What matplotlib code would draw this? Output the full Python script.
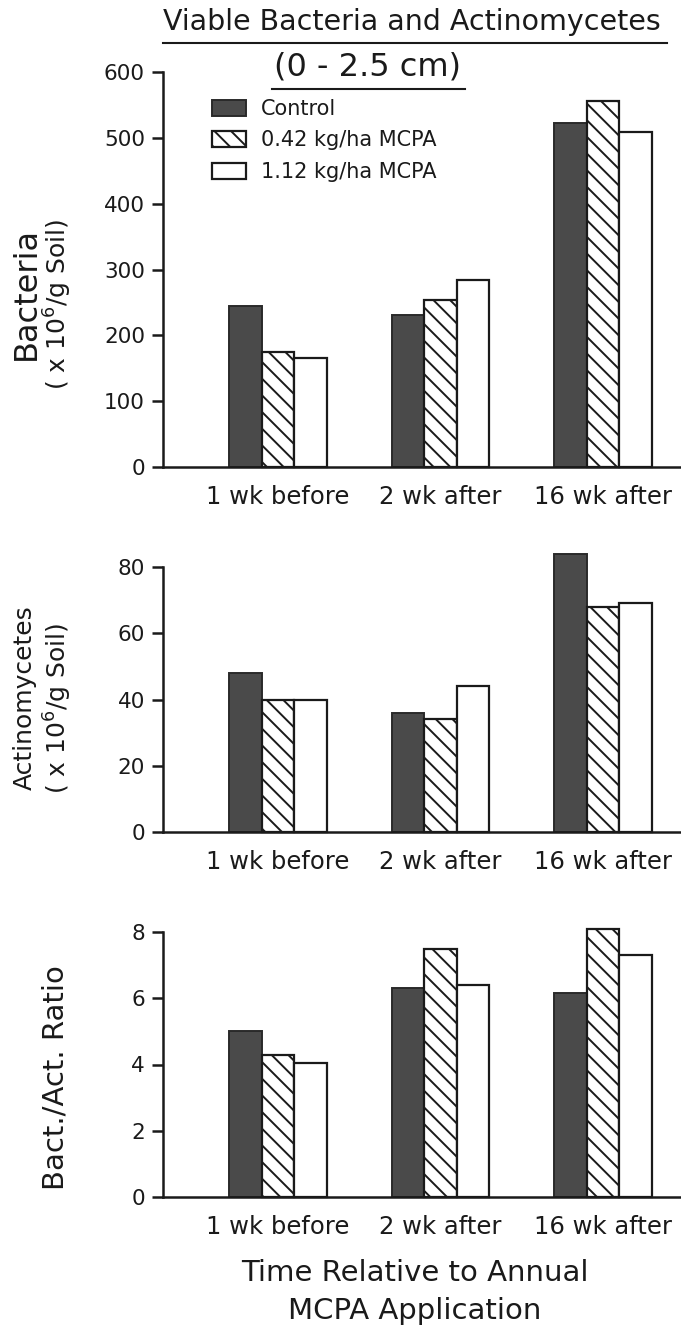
import numpy as np
import matplotlib
matplotlib.use('Agg')
import matplotlib.pyplot as plt
from matplotlib.lines import Line2D

# ---- data ----
groups = ['1 wk before', '2 wk after', '16 wk after']
treatments = ['Control', '0.42 kg/ha MCPA', '1.12 kg/ha MCPA']

bact_control = [245, 231, 522]
bact_low = [174, 254, 556]
bact_high = [166, 284, 509]

act_control = [48, 36, 84]
act_low = [40, 34, 68]
act_high = [40, 44, 69]

ratio_control = [5.0, 6.3, 6.15]
ratio_low = [4.3, 7.5, 8.1]
ratio_high = [4.05, 6.4, 7.3]

plt.rcParams['font.family'] = ['DejaVu Sans']
plt.rcParams['mathtext.fontset'] = 'dejavusans'
plt.rcParams['hatch.linewidth'] = 1.4
plt.rcParams['hatch.color'] = '#1a1a1a'

W, H = 681, 1329
fig = plt.figure(figsize=(W / 100, H / 100), dpi=100)

INK = '#1a1a1a'
DARK = '#4a4a4a'
X_LEFT, X_RIGHT = 163, 681
XLIM = (-0.708, 2.48)


def add_panel(y0_px, ytop_px, ytop_val, ymax):
    # y0_px: pixel row of value 0, ytop_px: pixel row of highest tick
    scale = (y0_px - ytop_px) / ytop_val
    top_px = y0_px - scale * ymax
    ax = fig.add_axes([X_LEFT / W, 1 - y0_px / H,
                       (X_RIGHT - X_LEFT) / W, (y0_px - top_px) / H])
    ax.set_xlim(*XLIM)
    ax.set_ylim(0, ymax)
    ax.spines['top'].set_visible(False)
    ax.spines['right'].set_visible(False)
    ax.spines['left'].set_bounds(0, ytop_val)
    for s in ['left', 'bottom']:
        ax.spines[s].set_linewidth(1.8)
        ax.spines[s].set_color(INK)
    ax.patch.set_visible(False)
    return ax


def draw_bars(ax, ctrl, low, high, yticks, ylabel1, ylabel2, lab_x1, lab_x2, lab_y, fs1):
    x = np.arange(len(groups))
    w = 0.2
    b1 = ax.bar(x - w, ctrl, w, color=DARK, edgecolor='#2a2a2a', linewidth=1.4,
                label=treatments[0], clip_on=False, zorder=2)
    b2 = ax.bar(x, low, w, color='white', edgecolor=INK, linewidth=1.6, hatch='\\\\',
                label=treatments[1], clip_on=False, zorder=2)
    b3 = ax.bar(x + w, high, w, color='white', edgecolor=INK, linewidth=1.6,
                label=treatments[2], clip_on=False, zorder=2)
    ax.set_yticks(yticks)
    ax.set_yticklabels([str(t) for t in yticks])
    ax.tick_params(axis='y', direction='out', length=8, width=1.8, color=INK,
                   pad=5, labelsize=15.5, labelcolor=INK)
    ax.set_xticks(x)
    ax.set_xticklabels(groups)
    ax.tick_params(axis='x', length=0, pad=13, labelsize=17.5, labelcolor=INK)
    fig.text(lab_x1 / W, 1 - lab_y / H, ylabel1, rotation=90, ha='center', va='center',
             fontsize=fs1, color=INK)
    if ylabel2:
        fig.text(lab_x2 / W, 1 - (lab_y + 10) / H, ylabel2, rotation=90, ha='center',
                 va='center', fontsize=18, color=INK)
    return b1, b2, b3


ax1 = add_panel(467, 72, 600, 600)
handles = draw_bars(ax1, bact_control, bact_low, bact_high, [0, 100, 200, 300, 400, 500, 600],
                    'Bacteria', r'( x 10$^6$/g Soil)', 26, 58, 294, 23)

ax2 = add_panel(832, 567, 80, 88)
draw_bars(ax2, act_control, act_low, act_high, [0, 20, 40, 60, 80],
          'Actinomycetes', r'( x 10$^6$/g Soil)', 25, 58, 698, 18)

ax3 = add_panel(1197, 932, 8, 8.5)
draw_bars(ax3, ratio_control, ratio_low, ratio_high, [0, 2, 4, 6, 8],
          'Bact./Act. Ratio', None, 55, None, 1078, 21)

ax1.legend(handles, treatments, loc='upper left', bbox_to_anchor=(212 / W, 1 - 99 / H),
           bbox_transform=fig.transFigure, frameon=False, fontsize=15,
           handlelength=1.65, handleheight=0.8, handletextpad=0.7,
           labelspacing=0.55, borderpad=0, borderaxespad=0, labelcolor=INK)

# title block with underlines
fig.text(412 / W, 1 - 22 / H, 'Viable Bacteria and Actinomycetes', ha='center', va='center',
         fontsize=20.5, color=INK)
fig.add_artist(Line2D([163 / W, 667 / W], [1 - 43 / H, 1 - 43 / H], color=INK, linewidth=1.5))
fig.text(368 / W, 1 - 67 / H, '(0 - 2.5 cm)', ha='center', va='center',
         fontsize=23, color=INK)
fig.add_artist(Line2D([272 / W, 465 / W], [1 - 89 / H, 1 - 89 / H], color=INK, linewidth=1.5))

# bottom axis title
fig.text(415 / W, 1 - 1273 / H, 'Time Relative to Annual', ha='center', va='center',
         fontsize=21, color=INK)
fig.text(415 / W, 1 - 1311 / H, 'MCPA Application', ha='center', va='center',
         fontsize=21, color=INK)

fig.savefig('out.png', dpi=100, facecolor='white')
